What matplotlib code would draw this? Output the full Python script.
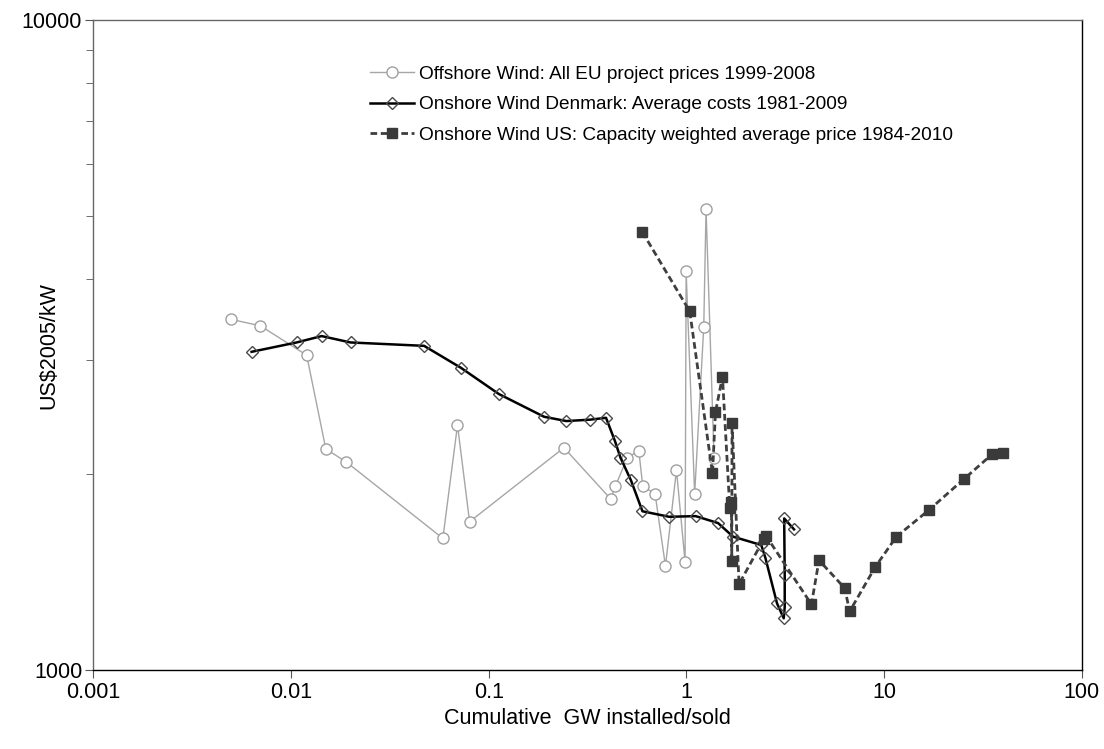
import matplotlib
matplotlib.use("Agg")
import matplotlib.pyplot as plt
from matplotlib.ticker import LogLocator, NullFormatter, FixedLocator, FixedFormatter

plt.rcParams['font.family'] = ['Liberation Sans', 'DejaVu Sans']

# Offshore Wind: All EU project prices 1999-2008
off_gw = [0.005, 0.007, 0.012, 0.015, 0.019, 0.0586, 0.0695, 0.080, 0.240,
          0.414, 0.4375, 0.501, 0.574, 0.601, 0.694, 0.783, 0.890, 0.984,
          0.996, 1.10, 1.223, 1.256, 1.379]
off_price = [3463, 3386, 3051, 2188, 2091, 1594, 2382, 1691, 2198,
             1833, 1919, 2119, 2176, 1919, 1866, 1445, 2031, 1466,
             4105, 1866, 3374, 5120, 2119]

# Onshore Wind Denmark: Average costs 1981-2009
dk_gw = [0.00632, 0.01067, 0.01428, 0.0200, 0.0471, 0.0723, 0.1125, 0.1906,
         0.247, 0.3255, 0.392, 0.435, 0.4637, 0.524, 0.599, 0.817, 1.114,
         1.445, 1.72, 2.39, 2.508, 2.871, 3.104, 3.14, 3.14, 3.12, 3.50]
dk_cost = [3088, 3192, 3265, 3192, 3154, 2918, 2659, 2453,
           2416, 2428, 2444, 2250, 2122, 1958, 1755, 1721, 1725,
           1683, 1604, 1557, 1487, 1266, 1201, 1250, 1400, 1711, 1646]

# Onshore Wind US: Capacity weighted average price 1984-2010
us_gw = [0.599, 1.039, 1.354, 1.402, 1.521, 1.656, 1.689, 1.695, 1.70,
         1.845, 2.46, 2.538, 4.285, 4.68, 6.31, 6.69, 9.03, 11.53, 16.85,
         25.2, 35.1, 39.9]
us_price = [4719, 3563, 2007, 2494, 2827, 1773, 1815, 1471, 2402,
            1356, 1590, 1605, 1262, 1475, 1337, 1231, 1442, 1604, 1763,
            1965, 2147, 2160]

x_ticks = [0.001, 0.01, 0.1, 1, 10, 100]
x_labels = ['0.001', '0.01', '0.1', '1', '10', '100']

fig = plt.figure(figsize=(11.04, 7.49), dpi=100)
ax = fig.add_axes([0.0845, 0.1055, 0.8955, 0.8675])

ax.plot(off_gw, off_price, color='#a6a6a6', lw=1.0, marker='o', ms=8,
        mfc='white', mec='#a0a0a0', mew=1.0,
        label='Offshore Wind: All EU project prices 1999-2008')
ax.plot(dk_gw, dk_cost, color='black', lw=1.8, marker='D', ms=6.5,
        mfc='none', mec='#4a4a4a', mew=1.0,
        label='Onshore Wind Denmark: Average costs 1981-2009')
ax.plot(us_gw, us_price, color='#3f3f3f', lw=2.0, ls=(0, (2.4, 1.3)),
        marker='s', ms=7.5, mfc='#3a3a3a', mec='#3a3a3a',
        label='Onshore Wind US: Capacity weighted average price 1984-2010')

ax.set_xscale('log')
ax.set_yscale('log')
ax.set_xlim(0.001, 100)
ax.set_ylim(1000, 10000)

ax.xaxis.set_major_locator(FixedLocator(x_ticks))
ax.xaxis.set_major_formatter(FixedFormatter(x_labels))
ax.xaxis.set_minor_locator(plt.NullLocator())
ax.yaxis.set_major_locator(FixedLocator([1000, 10000]))
ax.yaxis.set_major_formatter(FixedFormatter(['1000', '10000']))
ax.yaxis.set_minor_locator(LogLocator(base=10, subs=range(2, 10)))
ax.yaxis.set_minor_formatter(NullFormatter())

ax.tick_params(axis='both', which='major', direction='out', length=6,
               labelsize=15.5, color='#555555')
ax.tick_params(axis='y', which='minor', direction='out', length=5,
               color='#555555')
ax.tick_params(axis='x', pad=3)
ax.tick_params(axis='y', pad=2)

for side in ['left', 'top']:
    ax.spines[side].set_color('#666666')
for side in ['bottom', 'right']:
    ax.spines[side].set_color('black')
for s in ax.spines.values():
    s.set_linewidth(1.0)

ax.set_xlabel('Cumulative  GW installed/sold', fontsize=15.5)
ax.set_ylabel('US$2005/kW', fontsize=15.5)
ax.xaxis.set_label_coords(0.5, -0.058)
ax.yaxis.set_label_coords(-0.034, 0.5)

ax.legend(loc='upper left', bbox_to_anchor=(0.272, 0.942), frameon=False,
          fontsize=13.7, handlelength=2.3, handletextpad=0.3,
          labelspacing=0.7, borderaxespad=0)

fig.savefig('out.png', dpi=100)
